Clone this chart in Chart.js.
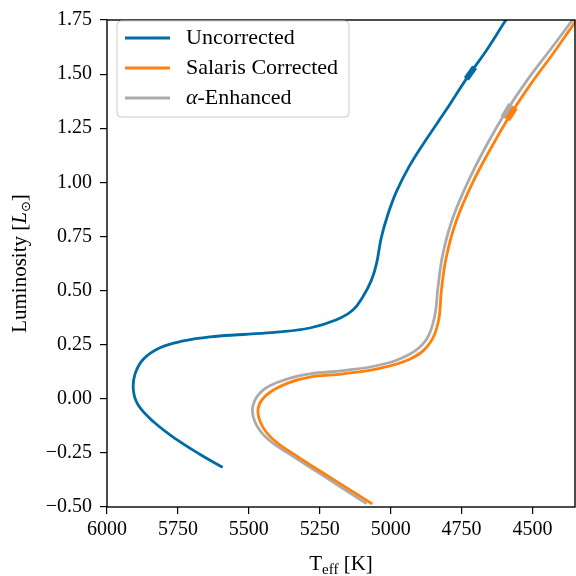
<!DOCTYPE html>
<html>
<head>
<meta charset="utf-8">
<script src="https://cdn.jsdelivr.net/npm/chart.js@4"></script>
<style>
  html, body { margin: 0; padding: 0; background: #fff; }
</style>
</head>
<body>
<canvas id="myChart" width="576" height="576"></canvas>
<script>
// data
const uncorrectedT = [5596, 5673, 5755, 5837, 5890, 5907, 5901, 5872, 5813, 5731, 5637, 5520, 5402, 5285, 5191, 5133, 5098, 5068, 5050, 5033, 5010, 4980, 4933, 4874, 4804, 4729, 4663, 4593, 4563];
const uncorrectedL = [-0.314, -0.256, -0.188, -0.105, -0.029, 0.040, 0.115, 0.183, 0.236, 0.267, 0.286, 0.297, 0.308, 0.327, 0.365, 0.410, 0.471, 0.547, 0.623, 0.744, 0.850, 0.956, 1.077, 1.199, 1.335, 1.486, 1.608, 1.751, 1.805];

const salarisT = [5068, 5159, 5215, 5332, 5414, 5455, 5467, 5438, 5367, 5285, 5168, 5039, 4933, 4869, 4833, 4821, 4804, 4769, 4710, 4642, 4574, 4505, 4429, 4352, 4324];
const salarisL = [-0.483, -0.408, -0.362, -0.264, -0.188, -0.120, -0.044, 0.017, 0.070, 0.100, 0.115, 0.141, 0.183, 0.244, 0.350, 0.501, 0.653, 0.820, 1.001, 1.168, 1.320, 1.456, 1.592, 1.736, 1.786];

const alphaT = [5088, 5176, 5238, 5356, 5438, 5479, 5485, 5450, 5379, 5285, 5168, 5039, 4933, 4874, 4845, 4833, 4816, 4781, 4722, 4657, 4589, 4519, 4440, 4358, 4331];
const alphaL = [-0.482, -0.408, -0.355, -0.256, -0.180, -0.105, -0.029, 0.040, 0.085, 0.115, 0.130, 0.156, 0.206, 0.274, 0.380, 0.517, 0.668, 0.835, 1.017, 1.183, 1.335, 1.471, 1.608, 1.751, 1.798];

// short thick marks on each track
const uncorrectedMarkT = [4733, 4704];
const uncorrectedMarkL = [1.478, 1.532];
const salarisMarkT = [4588, 4561];
const salarisMarkL = [1.29, 1.345];
const alphaMarkT = [4603, 4576];
const alphaMarkL = [1.30, 1.36];

const legendLabels = ["Uncorrected", "Salaris Corrected", "α-Enhanced"];
const xTicks = [6000, 5750, 5500, 5250, 5000, 4750, 4500];
const yTicks = [-0.5, -0.25, 0, 0.25, 0.5, 0.75, 1.0, 1.25, 1.5, 1.75];
const yTickLabels = ["−0.50", "−0.25", "0.00", "0.25", "0.50", "0.75", "1.00", "1.25", "1.50", "1.75"];

const colors = ["#006BA4", "#FF800E", "#ABABAB"];
const serif = "'Liberation Serif', 'DejaVu Serif', serif";

function pts(xs, ys) {
  return xs.map((x, i) => ({ x: x, y: ys[i] }));
}

function track(label, xs, ys, color, order) {
  return {
    label: label,
    data: pts(xs, ys),
    showLine: true,
    borderColor: color,
    backgroundColor: color,
    borderWidth: 2.8,
    borderCapStyle: "round",
    borderJoinStyle: "round",
    pointRadius: 0,
    tension: 0.4,
    clip: 0,
    order: order,
  };
}

function mark(xs, ys, color, order) {
  return {
    label: "",
    data: pts(xs, ys),
    showLine: true,
    borderColor: color,
    borderWidth: 6,
    pointRadius: 0,
    clip: 0,
    order: order,
  };
}

// frame, legend and axis titles
const extras = {
  id: "extras",
  afterDraw(chart) {
    const ctx = chart.ctx;
    const a = chart.chartArea;
    ctx.save();

    ctx.strokeStyle = "#000";
    ctx.lineWidth = 1.4;
    ctx.strokeRect(a.left, a.top, a.right - a.left, a.bottom - a.top);

    // legend box
    const bx = 117, by = 21, bw = 232, bh = 96, r = 4;
    ctx.beginPath();
    ctx.roundRect(bx, by, bw, bh, r);
    ctx.fillStyle = "rgba(255,255,255,0.8)";
    ctx.fill();
    ctx.strokeStyle = "#cccccc";
    ctx.lineWidth = 1;
    ctx.stroke();

    ctx.textBaseline = "middle";
    legendLabels.forEach((lab, i) => {
      const yy = 38 + i * 30;
      ctx.strokeStyle = colors[i];
      ctx.lineWidth = 2.8;
      ctx.beginPath();
      ctx.moveTo(125, yy);
      ctx.lineTo(170, yy);
      ctx.stroke();
      ctx.fillStyle = "#000";
      let x = 186;
      if (lab.startsWith("α")) {
        ctx.font = "italic 22px " + serif;
        ctx.fillText("α", x, yy);
        x += ctx.measureText("α").width;
        lab = lab.slice(1);
      }
      ctx.font = "22px " + serif;
      ctx.fillText(lab, x, yy);
    });

    // x title: T_eff [K]
    ctx.fillStyle = "#000";
    ctx.textBaseline = "alphabetic";
    ctx.font = "21px " + serif;
    const wT = ctx.measureText("T").width;
    ctx.font = "15px " + serif;
    const wSub = ctx.measureText("eff").width;
    ctx.font = "21px " + serif;
    const wK = ctx.measureText(" [K]").width;
    let x0 = (a.left + a.right) / 2 - (wT + wSub + wK) / 2;
    const base = 570;
    ctx.fillText("T", x0, base);
    ctx.font = "15px " + serif;
    ctx.fillText("eff", x0 + wT, base + 4);
    ctx.font = "21px " + serif;
    ctx.fillText(" [K]", x0 + wT + wSub, base);

    // y title: Luminosity [L_sun]
    ctx.translate(26, (a.top + a.bottom) / 2);
    ctx.rotate(-Math.PI / 2);
    ctx.font = "21px " + serif;
    const w1 = ctx.measureText("Luminosity [").width;
    ctx.font = "italic 21px " + serif;
    const w2 = ctx.measureText("L").width;
    ctx.font = "13px 'DejaVu Sans', sans-serif";
    const w3 = ctx.measureText("⊙").width;
    ctx.font = "21px " + serif;
    const w4 = ctx.measureText("]").width;
    let s = -(w1 + w2 + w3 + w4) / 2;
    ctx.fillText("Luminosity [", s, 0);
    s += w1;
    ctx.font = "italic 21px " + serif;
    ctx.fillText("L", s, 0);
    s += w2;
    ctx.font = "13px 'DejaVu Sans', sans-serif";
    ctx.fillText("⊙", s, 4);
    s += w3;
    ctx.font = "21px " + serif;
    ctx.fillText("]", s, 0);

    ctx.restore();
  },
};

const config = {
  type: "scatter",
  data: {
    datasets: [
      track(legendLabels[0], uncorrectedT, uncorrectedL, colors[0], 3),
      track(legendLabels[1], salarisT, salarisL, colors[1], 1),
      track(legendLabels[2], alphaT, alphaL, colors[2], 2),
      mark(uncorrectedMarkT, uncorrectedMarkL, colors[0], 0),
      mark(salarisMarkT, salarisMarkL, colors[1], 0),
      mark(alphaMarkT, alphaMarkL, colors[2], 0),
    ],
  },
  options: {
    responsive: false,
    animation: false,
    devicePixelRatio: 1,
    layout: { padding: { top: 12, right: 1, left: 0, bottom: 0 } },
    plugins: {
      legend: { display: false },
      tooltip: { enabled: false },
    },
    scales: {
      x: {
        type: "linear",
        reverse: true,
        min: 4350,
        max: 6000,
        afterBuildTicks: (scale) => {
          scale.ticks = xTicks.map((v) => ({ value: v }));
        },
        afterFit: (scale) => {
          scale.height = 69;
        },
        ticks: {
          color: "#000",
          font: { family: serif, size: 20 },
          padding: 4,
          maxRotation: 0,
          callback: (v) => String(v),
        },
        grid: {
          drawOnChartArea: false,
          tickLength: 7,
          color: "#000",
          lineWidth: 1.2,
        },
        border: { display: false },
      },
      y: {
        type: "linear",
        min: -0.5,
        max: 1.75,
        afterBuildTicks: (scale) => {
          scale.ticks = yTicks.map((v) => ({ value: v }));
        },
        afterFit: (scale) => {
          scale.width = 107;
        },
        ticks: {
          color: "#000",
          font: { family: serif, size: 20 },
          padding: 8,
          callback: (v, i) => yTickLabels[i],
        },
        grid: {
          drawOnChartArea: false,
          tickLength: 7,
          color: "#000",
          lineWidth: 1.2,
        },
        border: { display: false },
      },
    },
  },
  plugins: [extras],
};

const myChart = new Chart(document.getElementById("myChart"), config);
</script>
</body>
</html>
